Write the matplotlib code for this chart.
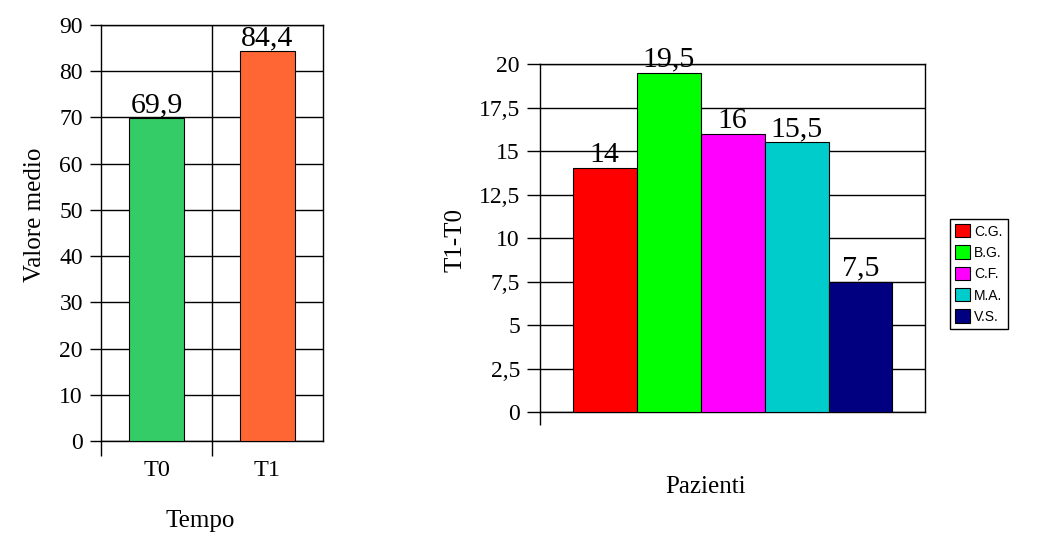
import matplotlib
matplotlib.use('Agg')
import matplotlib.pyplot as plt

# dati grafico sinistro
tempi = ['T0', 'T1']
valori_medi = [69.9, 84.4]
colori_tempi = ['#33CC66', '#FF6633']

# dati grafico destro
pazienti = ['C.G.', 'B.G.', 'C.F.', 'M.A.', 'V.S.']
differenze = [14, 19.5, 16, 15.5, 7.5]
colori_pazienti = ['#FF0000', '#00FF00', '#FF00FF', '#00CCCC', '#000080']

yticks_sx = list(range(0, 91, 10))
yticks_dx = [0, 2.5, 5, 7.5, 10, 12.5, 15, 17.5, 20]


def virgola(v):
    # formato italiano con la virgola
    s = ('%g' % v)
    return s.replace('.', ',')


plt.rcParams['font.family'] = ['Liberation Serif', 'DejaVu Serif']

fig = plt.figure(figsize=(10.47, 5.52), dpi=100)

# --- grafico sinistro ---
ax1 = fig.add_axes([0.0965, 0.2011, 0.212, 0.7536])
x1 = [0.5 + i for i in range(len(tempi))]
ax1.bar(x1, valori_medi, width=0.5, color=colori_tempi, edgecolor='black', linewidth=0.8, zorder=3)
for xi, v in zip(x1, valori_medi):
    ax1.text(xi, v, virgola(v), ha='center', va='bottom', fontsize=21.5, zorder=4)

ax1.set_xlim(0, 2)
ax1.set_ylim(0, 90)
ax1.set_yticks(yticks_sx)
ax1.set_yticklabels([str(t) for t in yticks_sx])
ax1.set_xticks(x1)
ax1.set_xticklabels(tempi)
ax1.set_xticks([0, 1], minor=True)
ax1.tick_params(axis='x', which='major', length=0, pad=14, labelsize=17.5)
ax1.tick_params(axis='x', which='minor', length=11, width=1, direction='out')
ax1.tick_params(axis='y', length=8, width=1, pad=5, labelsize=17)
ax1.grid(axis='y', color='black', linewidth=1, zorder=0)
ax1.axvline(1, color='black', linewidth=1, zorder=0)
for s in ax1.spines.values():
    s.set_linewidth(1)
ax1.set_xlabel('Tempo', fontsize=18)
ax1.xaxis.set_label_coords(0.446, -0.166)
ax1.set_ylabel('Valore medio', fontsize=18)
ax1.yaxis.set_label_coords(-0.248, 0.543)

# --- grafico destro ---
ax2 = fig.add_axes([0.5158, 0.2536, 0.3677, 0.6304])
larghezza = 0.1662
inizio = 0.5 - larghezza * len(pazienti) / 2
x2 = [inizio + larghezza * (i + 0.5) for i in range(len(pazienti))]
barre = ax2.bar(x2, differenze, width=larghezza, color=colori_pazienti, edgecolor='black',
                linewidth=0.8, label=pazienti, zorder=3)
for xi, v in zip(x2, differenze):
    ax2.text(xi, v, virgola(v), ha='center', va='bottom', fontsize=21.5, zorder=4)

ax2.set_xlim(0, 1)
ax2.set_ylim(0, 20)
ax2.set_yticks(yticks_dx)
ax2.set_yticklabels([virgola(t) for t in yticks_dx])
ax2.set_xticks([])
ax2.set_xticks([0], minor=True)
ax2.tick_params(axis='x', which='minor', length=9.5, width=1, direction='out')
ax2.tick_params(axis='y', length=9.5, width=1, pad=5, labelsize=17)
ax2.grid(axis='y', color='black', linewidth=1, zorder=0)
for s in ax2.spines.values():
    s.set_linewidth(1)
ax2.set_xlabel('Pazienti', fontsize=18)
ax2.xaxis.set_label_coords(0.429, -0.184)
ax2.set_ylabel('T1-T0', fontsize=18)
ax2.yaxis.set_label_coords(-0.19, 0.494)

leg = fig.legend(handles=barre.patches, labels=pazienti, loc='center left',
                 bbox_to_anchor=(0.907, 0.5036), fancybox=False, framealpha=1,
                 edgecolor='black', prop={'family': 'Liberation Sans', 'size': 10},
                 handlelength=1.1, handleheight=1.1, labelspacing=0.5,
                 handletextpad=0.25, borderpad=0.4, borderaxespad=0)
leg.get_frame().set_linewidth(1)

fig.savefig('out.png', dpi=100)
